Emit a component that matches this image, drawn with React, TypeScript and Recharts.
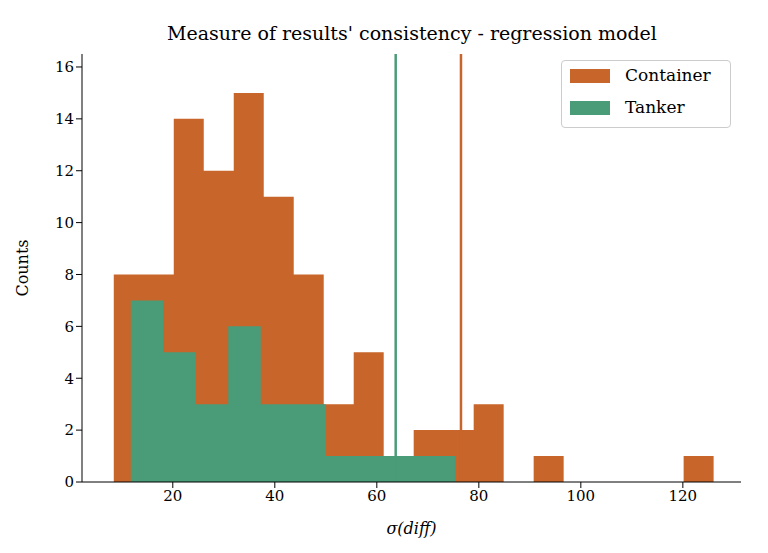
import React from "react";
import { ComposedChart, Area, XAxis, YAxis, ReferenceLine } from "recharts";

const containerStart = 8.43;
const containerWidth = 5.88;
const containerCounts = [8, 8, 14, 12, 15, 11, 8, 3, 5, 1, 2, 2, 3, 0, 1, 0, 0, 0, 0, 1];
const tankerStart = 11.76;
const tankerWidth = 6.37;
const tankerCounts = [7, 5, 3, 6, 3, 3, 1, 1, 1, 1];
const containerMean = 76.5;
const tankerMean = 63.7;
const xTicks = [20, 40, 60, 80, 100, 120];
const yTicks = [0, 2, 4, 6, 8, 10, 12, 14, 16];

const ORANGE = "#c8652a";
const GREEN = "#4a9b78";

function valAt(x: number, start: number, w: number, counts: number[]) {
  const i = Math.floor((x - start) / w + 1e-9);
  if (i < 0 || i >= counts.length) return 0;
  return counts[i];
}

const edges: number[] = [];
containerCounts.forEach((_, i) => edges.push(containerStart + i * containerWidth));
edges.push(containerStart + containerCounts.length * containerWidth);
tankerCounts.forEach((_, i) => edges.push(tankerStart + i * tankerWidth));
edges.push(tankerStart + tankerCounts.length * tankerWidth);
edges.sort((a, b) => a - b);
const data = edges.map((x) => ({
  x,
  container: valAt(x, containerStart, containerWidth, containerCounts),
  tanker: valAt(x, tankerStart, tankerWidth, tankerCounts),
}));

const font = "DejaVu Serif";
const tickStyle = { fontFamily: font, fontSize: 15, fill: "#000" };

export default function App() {
  return (
    <div style={{ position: "relative", width: 768, height: 553, margin: -8, fontFamily: font }}>
      <div style={{ position: "absolute", top: 22, left: 0, width: 824, textAlign: "center", fontSize: 19 }}>
        Measure of results' consistency - regression model
      </div>
      <ComposedChart width={768} height={553} data={data} margin={{ top: 54, right: 27, bottom: 41, left: 42 }}>
        <XAxis dataKey="x" type="number" domain={[2.2, 131.4]} ticks={xTicks} tick={tickStyle}
          tickLine={{ stroke: "#000" }} axisLine={{ stroke: "#000" }} stroke="#000" height={30}
          label={{ value: "σ(diff)", position: "insideBottom", offset: -22, style: { fontFamily: font, fontSize: 16, fontStyle: "italic", fill: "#000" } }} />
        <XAxis xAxisId="top" orientation="top" dataKey="x" type="number" domain={[2.2, 131.4]} tick={false} tickLine={false} height={0} axisLine={{ stroke: "#000" }} />
        <YAxis type="number" domain={[0, 16.5]} ticks={yTicks} tick={tickStyle} tickLine={{ stroke: "#000" }}
          axisLine={{ stroke: "#000" }} width={40}
          label={{ value: "Counts", angle: -90, position: "insideLeft", offset: -20, style: { fontFamily: font, fontSize: 16, fill: "#000", textAnchor: "middle" } }} />
        <YAxis yAxisId="right" orientation="right" domain={[0, 16.5]} tick={false} tickLine={false} width={0} axisLine={{ stroke: "#000" }} />
        <Area dataKey="container" type="stepAfter" fill={ORANGE} fillOpacity={1} stroke="none" isAnimationActive={false} />
        <Area dataKey="tanker" type="stepAfter" fill={GREEN} fillOpacity={1} stroke="none" isAnimationActive={false} />
        <ReferenceLine x={tankerMean} stroke={GREEN} strokeWidth={2.5} />
        <ReferenceLine x={containerMean} stroke={ORANGE} strokeWidth={2.5} />
      </ComposedChart>
      <div style={{ position: "absolute", left: 561, top: 60, width: 168, height: 66, border: "1px solid #ccc", borderRadius: 4, background: "rgba(255,255,255,0.8)", fontSize: 17 }}>
        <div style={{ position: "absolute", left: 8, top: 8, width: 40, height: 14, background: ORANGE }} />
        <div style={{ position: "absolute", left: 63, top: 4 }}>Container</div>
        <div style={{ position: "absolute", left: 8, top: 40, width: 40, height: 14, background: GREEN }} />
        <div style={{ position: "absolute", left: 63, top: 36 }}>Tanker</div>
      </div>
    </div>
  );
}
